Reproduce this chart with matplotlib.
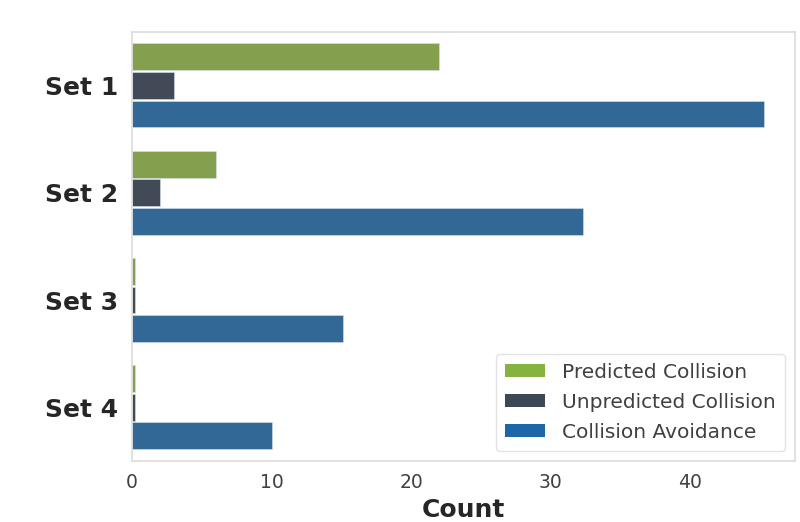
import numpy as np
import matplotlib
matplotlib.use("Agg")
import matplotlib.pyplot as plt
from matplotlib.patches import Patch

# data
sets = ["Set 1", "Set 2", "Set 3", "Set 4"]
predicted = [22, 6, 0.2, 0.2]
unpredicted = [3, 2, 0.2, 0.2]
avoidance = [45.3, 32.3, 15.1, 10]
series_names = ["Predicted Collision", "Unpredicted Collision", "Collision Avoidance"]

# bar colours (desaturated) and legend colours
bar_colors = ["#84a04e", "#414a56", "#326895"]
legend_colors = ["#86b23f", "#3d4856", "#1f66a6"]

plt.rcParams['font.family'] = ['DejaVu Sans']

fig = plt.figure(figsize=(8, 5.22), dpi=100)
ax = fig.add_axes([0.165, 0.117, 0.829, 0.822])

y = np.arange(len(sets))
step = 0.8 / 3
for i, vals in enumerate([predicted, unpredicted, avoidance]):
    ax.barh(y + (i - 1) * step, vals, height=0.25, color=bar_colors[i],
            edgecolor="#d8e2ec", linewidth=0.4)

ax.set_ylim(3.5, -0.5)
ax.set_xlim(0, 47.5)
ax.set_yticks(y)
ax.set_yticklabels(sets, fontsize=18, fontweight='bold', color='#262626')
ax.set_xticks([0, 10, 20, 30, 40])
ax.tick_params(axis='x', labelsize=13.5, colors='#404040', length=0, pad=9)
ax.tick_params(axis='y', length=0, pad=10)
ax.set_xlabel("Count", fontsize=18, fontweight='bold', color='#262626', labelpad=4)

for sp in ax.spines.values():
    sp.set_color('#dcdcdc')
    sp.set_linewidth(1.2)

handles = [Patch(facecolor=c, label=n) for c, n in zip(legend_colors, series_names)]
leg = ax.legend(handles=handles, loc='lower right', fontsize=14.5, frameon=True,
                handlelength=2.0, handleheight=0.6, handletextpad=0.85,
                borderpad=0.45, labelspacing=0.55, borderaxespad=0.5)
leg.get_frame().set_edgecolor('#dcdcdc')
for t in leg.get_texts():
    t.set_color('#404040')

fig.savefig("out.png", dpi=100)
